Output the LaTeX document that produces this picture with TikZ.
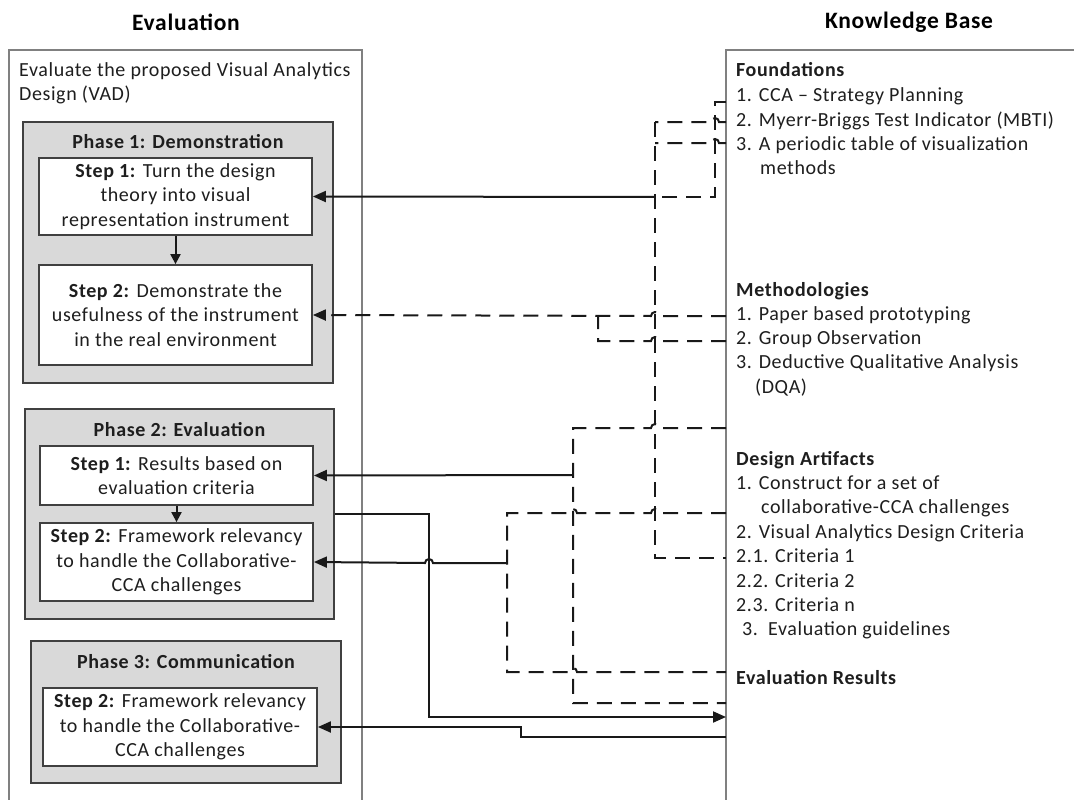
\documentclass[tikz,border=0pt]{standalone}
\usepackage{fontspec}
\setmainfont{Carlito}[LetterSpace=3]
\usetikzlibrary{arrows.meta,calc}
\definecolor{outline}{HTML}{808080}
\definecolor{dark}{HTML}{404040}
\definecolor{boxgray}{HTML}{D9D9D9}
\definecolor{txt}{HTML}{1E1E1E}
\newcommand\hopL[2]{-- ({#1+4},#2) arc[start angle=0,end angle=-180,radius=4]}
\newcommand\hopR[2]{-- ({#1-4},#2) arc[start angle=180,end angle=360,radius=4]}
\begin{document}
\begin{tikzpicture}[x=1pt,y=-1pt,
  outer/.style={draw=outline,line width=2pt},
  phasebox/.style={draw=dark,line width=1.8pt,fill=boxgray,inner sep=0pt},
  stepbox/.style={draw=dark,line width=1.8pt,fill=white,inner sep=0pt,align=center,text=txt,font=\fontsize{20}{24.4}\selectfont},
  phasetitle/.style={text=txt,inner sep=0pt,font=\bfseries\fontsize{20}{24}\selectfont},
  title/.style={text=black,inner sep=0pt,font=\bfseries\fontsize{23.5}{28}\selectfont},
  body/.style={text=txt,inner sep=0pt,anchor=base west,font=\fontsize{20}{24.4}\selectfont},
  bodyb/.style={body,font=\bfseries\fontsize{20}{24.4}\selectfont},
  conn/.style={line width=2pt,black!90},
  dashconn/.style={conn,dash pattern=on 15pt off 9pt},
  tip/.style={-{Triangle[length=13pt,width=11pt]}},
  smalltip/.style={-{Triangle[length=10pt,width=10pt]}}]
\useasboundingbox (0,0) rectangle (1074,800);
\fill[white] (0,0) rectangle (1074,800);

% titles
\node[title] (tEval) at (186,22) {Evaluation};
\node[title] (tKB) at (909,22) {Knowledge Base};

% outer frames
\draw[outer] (9,805) -- (9,50) -- (362,50) -- (362,805);
\draw[outer] (726,805) -- (726,50) -- (1080,50);

\node[body] (ev1) at (19,77) {Evaluate the proposed Visual Analytics};
\node[body] (ev2) at (19,100) {Design (VAD)};

% Phase 1
\node[phasebox,minimum width=310pt,minimum height=261pt] (ph1) at (178,252.5) {};
\node[phasetitle] (ph1t) at (178,142) {Phase 1: Demonstration};
\node[stepbox,minimum width=273pt,minimum height=77pt] (p1s1) at (175.5,196.5)
  {\textbf{Step 1:} Turn the design\\theory into visual\\representation instrument};
\node[stepbox,minimum width=273pt,minimum height=100pt] (p1s2) at (175.5,315)
  {\textbf{Step 2:} Demonstrate the\\usefulness of the instrument\\in the real environment};
\draw[conn,smalltip] (p1s1.south) -- (p1s2.north);

% Phase 2
\node[phasebox,minimum width=309pt,minimum height=210pt] (ph2) at (179.5,514) {};
\node[phasetitle] (ph2t) at (179.5,430) {Phase 2: Evaluation};
\node[stepbox,minimum width=273pt,minimum height=59pt] (p2s1) at (176.5,475.5)
  {\textbf{Step 1:} Results based on\\evaluation criteria};
\node[stepbox,minimum width=273pt,minimum height=78pt] (p2s2) at (176.5,562)
  {\textbf{Step 2:} Framework relevancy\\to handle the Collaborative-\\CCA challenges};
\draw[conn,smalltip] (p2s1.south) -- (p2s2.north);

% Phase 3
\node[phasebox,minimum width=310pt,minimum height=142pt] (ph3) at (186,712) {};
\node[phasetitle] (ph3t) at (186,662) {Phase 3: Communication};
\node[stepbox,minimum width=274pt,minimum height=78pt] (p3s) at (180,727)
  {\textbf{Step 2:} Framework relevancy\\to handle the Collaborative-\\CCA challenges};

% Knowledge base text
\node[bodyb] (kf0) at (736,77) {Foundations};
\node[body] (kf1) at (736,102) {1. CCA -- Strategy Planning};
\node[body] (kf2) at (736,126) {2. Myerr-Briggs Test Indicator (MBTI)};
\node[body] (kf3) at (736,150) {3. A periodic table of visualization};
\node[body] (kf4) at (760,174) {methods};

\node[bodyb] (km0) at (736,296) {Methodologies};
\node[body] (km1) at (736,320) {1. Paper based prototyping};
\node[body] (km2) at (736,344) {2. Group Observation};
\node[body] (km3) at (736,368) {3. Deductive Qualitative Analysis};
\node[body] (km4) at (755,393) {(DQA)};

\node[bodyb] (kd0) at (736,465) {Design Artifacts};
\node[body] (kd1) at (736,489) {1. Construct for a set of};
\node[body] (kd2) at (761,513) {collaborative-CCA challenges};
\node[body] (kd3) at (736,538) {2. Visual Analytics Design Criteria};
\node[body] (kd4) at (736,562) {2.1. Criteria 1};
\node[body] (kd5) at (736,587) {2.2. Criteria 2};
\node[body] (kd6) at (736,611) {2.3. Criteria n};
\node[body] (kd7) at (742,635) {3.\ \ Evaluation guidelines};

\node[bodyb] (ke0) at (736,684) {Evaluation Results};

% anchor points on the knowledge base edge
\coordinate (kbA) at (726,102);
\coordinate (kbB) at (726,122);
\coordinate (kbC) at (726,143);
\coordinate (kbM1) at (726,316);
\coordinate (kbM2) at (726,341);
\coordinate (kbD1) at (726,428);
\coordinate (kbD2) at (726,513);
\coordinate (kbD3) at (726,558);
\coordinate (kbE1) at (726,672);
\coordinate (kbE2) at (726,703);
\coordinate (kbR1) at (726,717);
\coordinate (kbR2) at (726,737);

% connectors to Phase 1 Step 1
\draw[dashconn] (kbA) -- (715,102) -- (715,197) -- (655,197);
\draw[dashconn] (kbB) \hopL{715}{122} -- (655,122);
\draw[dashconn] (kbC) \hopL{715}{143} -- (655,143);
\draw[dashconn] (655,122) -- (655,558) -- (kbD3);
\draw[conn,tip] (655,197) -- (p1s1.east);

% connectors to Phase 1 Step 2
\draw[dashconn,tip] (kbM1) \hopL{655}{316} -- (p1s2.east);
\draw[dashconn] (kbM2) \hopL{655}{341} -- (598,341) -- (598,316);

% connectors to Phase 2 Step 1
\draw[dashconn] (kbD1) \hopL{655}{428} -- (573,428) -- (573,703) -- (kbE2);
\draw[conn,tip] (573,475) -- (p2s1.east);

% connectors to Phase 2 Step 2
\draw[dashconn] (kbD2) \hopL{655}{513} \hopL{573}{513} -- (507,513) -- (507,672) \hopR{573}{672} -- (kbE1);
\draw[conn,tip] (507,563) \hopL{429}{563} -- (p2s2.east);

% evaluation results loop
\draw[conn,tip] (ph2.east) -- (429,514) -- (429,717) -- (kbR1);
\draw[conn,tip] (kbR2) -- (521,737) -- (521,727) -- (p3s.east);
\end{tikzpicture}
\end{document}
